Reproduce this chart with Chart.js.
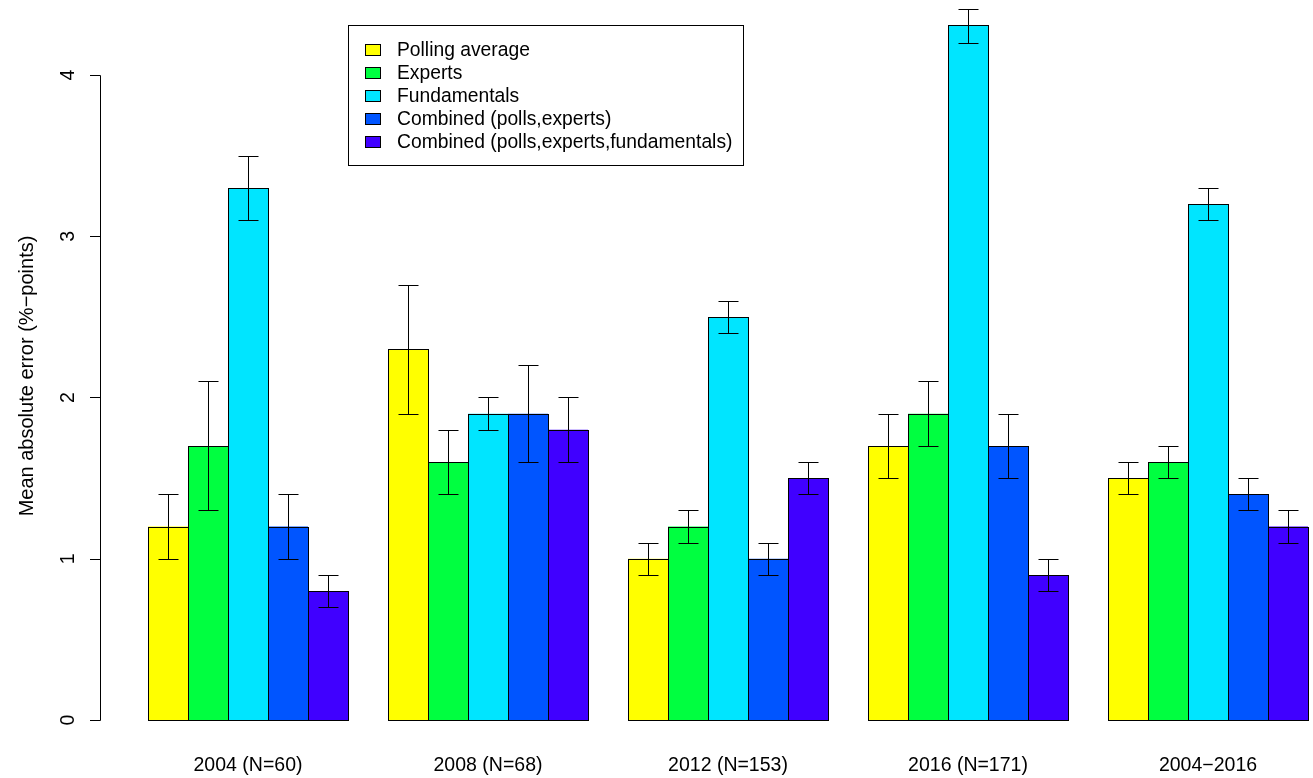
<!DOCTYPE html>
<html>
<head>
<meta charset="utf-8">
<script src="https://cdn.jsdelivr.net/npm/chart.js@4/dist/chart.umd.min.js"></script>
<style>
  html, body { margin: 0; padding: 0; background: #fff; }
  canvas { display: block; }
</style>
</head>
<body>
<canvas id="grafica" width="1313" height="778"></canvas>
<script>
'use strict';
var categorias = ['2004 (N=60)', '2008 (N=68)', '2012 (N=153)', '2016 (N=171)', '2004\u22122016'];
var series     = ['Polling average', 'Experts', 'Fundamentals', 'Combined (polls,experts)', 'Combined (polls,experts,fundamentals)'];
var colores    = ['#FFFF00', '#00FF40', '#00E5FF', '#0055FF', '#4000FF'];

var polls      = [1.2, 2.3, 1.0, 1.7, 1.5];
var pollsLo    = [1.0, 1.9, 0.9, 1.5, 1.4];
var pollsHi    = [1.4, 2.7, 1.1, 1.9, 1.6];

var experts    = [1.7, 1.6, 1.2, 1.9, 1.6];
var expertsLo  = [1.3, 1.4, 1.1, 1.7, 1.5];
var expertsHi  = [2.1, 1.8, 1.3, 2.1, 1.7];

var fund       = [3.3, 1.9, 2.5, 4.31, 3.2];
var fundLo     = [3.1, 1.8, 2.4, 4.2, 3.1];
var fundHi     = [3.5, 2.0, 2.6, 4.41, 3.3];

var combPE     = [1.2, 1.9, 1.0, 1.7, 1.4];
var combPELo   = [1.0, 1.6, 0.9, 1.5, 1.3];
var combPEHi   = [1.4, 2.2, 1.1, 1.9, 1.5];

var combAll    = [0.8, 1.8, 1.5, 0.9, 1.2];
var combAllLo  = [0.7, 1.6, 1.4, 0.8, 1.1];
var combAllHi  = [0.9, 2.0, 1.6, 1.0, 1.3];

var yTicks     = [0, 1, 2, 3, 4];
var yTitulo    = 'Mean absolute error (%\u2212points)';

var valores = [polls, experts, fund, combPE, combAll];
var bajos   = [pollsLo, expertsLo, fundLo, combPELo, combAllLo];
var altos   = [pollsHi, expertsHi, fundHi, combPEHi, combAllHi];

var FAMILIA = '"Liberation Sans", Arial, Helvetica, sans-serif';

// bar outlines, error bars, axis, labels and legend drawn like base R graphics
var dibujoR = {
    id : 'dibujoR',
    afterDatasetsDraw : function(chart) {
        var ctx = chart.ctx,
            ys  = chart.scales.y,
            xs  = chart.scales.x;

        ctx.save();
        ctx.strokeStyle = '#000';
        ctx.lineWidth   = 1;

        chart.data.datasets.forEach(function(ds, d) {
            var meta = chart.getDatasetMeta(d);
            meta.data.forEach(function(bar, i) {
                // outline
                var l = Math.round(bar.x - bar.width / 2) + 0.5,
                    r = Math.round(bar.x + bar.width / 2) + 0.5,
                    t = Math.round(bar.y) + 0.5,
                    b = Math.round(bar.base) + 0.5;
                ctx.strokeRect(l, t, r - l, b - t);

                // error bar
                var x  = Math.round(bar.x) + 0.5,
                    y1 = Math.round(ys.getPixelForValue(bajos[d][i])) + 0.5,
                    y2 = Math.round(ys.getPixelForValue(altos[d][i])) + 0.5;
                ctx.beginPath();
                ctx.moveTo(x, y1); ctx.lineTo(x, y2);
                ctx.moveTo(x - 10, y1); ctx.lineTo(x + 10, y1);
                ctx.moveTo(x - 10, y2); ctx.lineTo(x + 10, y2);
                ctx.stroke();
            });
        });

        // y axis
        var ax = 100.5;
        ctx.beginPath();
        ctx.moveTo(ax, Math.round(ys.getPixelForValue(yTicks[0])) + 0.5);
        ctx.lineTo(ax, Math.round(ys.getPixelForValue(yTicks[yTicks.length - 1])) + 0.5);
        yTicks.forEach(function(t) {
            var py = Math.round(ys.getPixelForValue(t)) + 0.5;
            ctx.moveTo(ax, py); ctx.lineTo(90, py);
        });
        ctx.stroke();

        ctx.fillStyle    = '#000';
        ctx.font         = '19.5px ' + FAMILIA;
        ctx.textAlign    = 'center';
        ctx.textBaseline = 'alphabetic';
        yTicks.forEach(function(t) {
            ctx.save();
            ctx.translate(74, ys.getPixelForValue(t));
            ctx.rotate(-Math.PI / 2);
            ctx.fillText(String(t), 0, 0);
            ctx.restore();
        });

        // x labels
        categorias.forEach(function(c, i) {
            ctx.fillText(c, xs.getPixelForValue(i), 771);
        });

        ctx.font = '20px ' + FAMILIA;
        ctx.save();
        ctx.translate(33, 376);
        ctx.rotate(-Math.PI / 2);
        ctx.fillText(yTitulo, 0, 0);
        ctx.restore();

        // legend
        ctx.font = '19.3px ' + FAMILIA;
        ctx.strokeRect(348.5, 25.5, 395, 140);
        ctx.textAlign = 'left';
        series.forEach(function(s, i) {
            var cy = 49.5 + i * 23.1;
            ctx.fillStyle = colores[i];
            ctx.fillRect(365.5, Math.round(cy - 5.5) + 0.5, 15, 11);
            ctx.strokeRect(365.5, Math.round(cy - 5.5) + 0.5, 15, 11);
            ctx.fillStyle = '#000';
            ctx.fillText(s, 397, cy + 6.5);
        });

        ctx.restore();
    }
};

var datos = {
    type : 'bar',
    data : {
        labels   : categorias,
        datasets : series.map(function(s, i) {
            return {
                label           : s,
                data            : valores[i],
                backgroundColor : colores[i],
                borderWidth     : 0,
                clip            : false
            };
        })
    },
    options : {
        responsive : false,
        animation  : false,
        layout     : {
            padding : { left : 248, right : 105, top : 10.5, bottom : 58 }
        },
        datasets : {
            bar : {
                categoryPercentage : 200 / 240,
                barPercentage      : 1
            }
        },
        scales : {
            x : { display : false, offset : false },
            y : { display : false, min : 0, max : 4.4 }
        },
        plugins : {
            legend  : { display : false },
            tooltip : { enabled : false }
        }
    },
    plugins : [dibujoR]
};

var lienzo = document.getElementById('grafica').getContext('2d');
window.grafica = new Chart(lienzo, datos);
</script>
</body>
</html>
